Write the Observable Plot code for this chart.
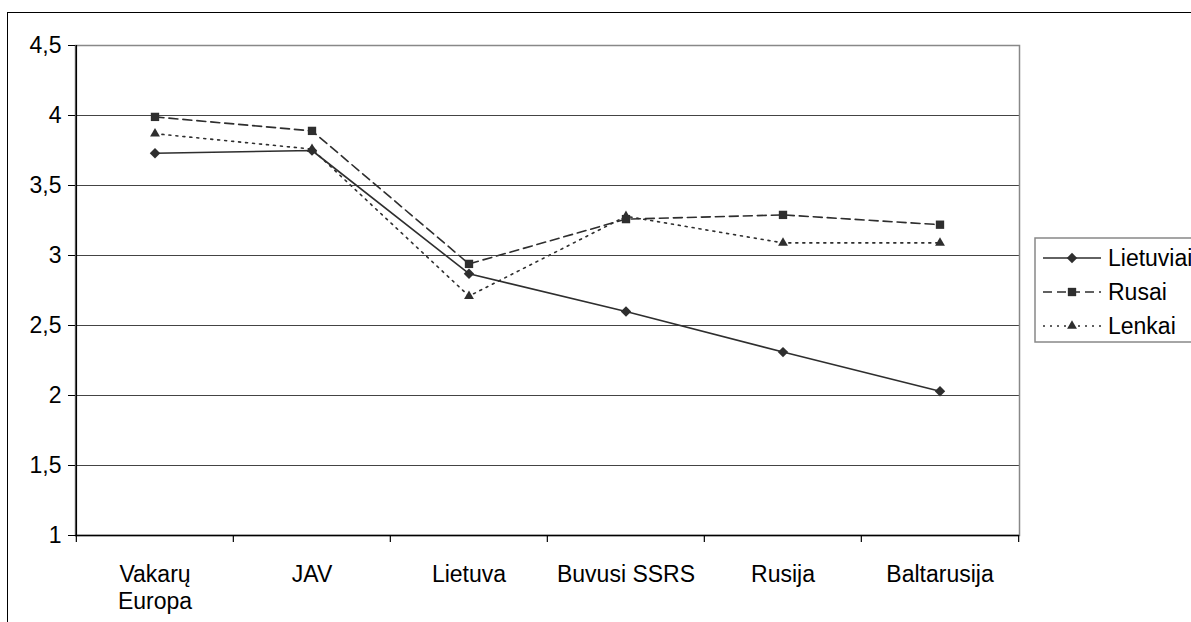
<!DOCTYPE html>
<html>
<head>
<meta charset="utf-8">
<script src="https://cdn.jsdelivr.net/npm/d3@7"></script>
<script src="https://cdn.jsdelivr.net/npm/@observablehq/plot@0.6"></script>
<style>
  html, body { margin: 0; padding: 0; background: #fff; }
  #wrap { position: relative; width: 1191px; height: 622px; overflow: hidden; }
  #border { position: absolute; left: 7px; top: 12px; width: 1400px; height: 800px;
            border-left: 1.5px solid #000; border-top: 1.5px solid #000; }
  #chart, #legend { position: absolute; left: 0; top: 0; }
</style>
</head>
<body>
<div id="wrap">
  <div id="border"></div>
  <div id="chart"></div>
  <div id="legend"></div>
</div>
<script>
const categories = ["Vakarų\nEuropa", "JAV", "Lietuva", "Buvusi SSRS", "Rusija", "Baltarusija"];
const seriesNames = ["Lietuviai", "Rusai", "Lenkai"];
const lietuviai = [3.73, 3.75, 2.87, 2.60, 2.31, 2.03];
const rusai     = [3.99, 3.89, 2.94, 3.26, 3.29, 3.22];
const lenkai    = [3.87, 3.76, 2.71, 3.28, 3.09, 3.09];
const yTicks = [1, 1.5, 2, 2.5, 3, 3.5, 4, 4.5];

const W = 1191, H = 622, mL = 75, mR = 172, mT = 45, mB = 87;
const bw = (W - mL - mR) / categories.length;
const ink = "#2e2e2e";
const font = "'Liberation Sans', Arial, sans-serif";
const fs = 23;

const styles = [
  {dash: null, symbol: "diamond2"},
  {dash: "9,5", symbol: "square"},
  {dash: "2,5", symbol: "triangle2"}
];
const values = [lietuviai, rusai, lenkai];
const tables = values.map((vals, s) => categories.map((c, i) => ({cat: c, value: vals[i], series: seriesNames[s]})));

const seriesMarks = tables.flatMap((t, s) => [
  Plot.line(t, {x: "cat", y: "value", stroke: ink, strokeWidth: 1.6, strokeDasharray: styles[s].dash}),
  Plot.dot(t, {x: "cat", y: "value", symbol: styles[s].symbol, r: 4.7, fill: ink, stroke: "none"})
]);

const plot = Plot.plot({
  width: W, height: H,
  marginLeft: mL, marginRight: mR, marginTop: mT, marginBottom: mB,
  style: {fontFamily: font, fontSize: fs + "px", color: "#000", background: "transparent", overflow: "visible"},
  x: {type: "band", domain: categories, padding: 0},
  y: {domain: [1, 4.5]},
  marks: [
    Plot.gridY(yTicks, {stroke: "#444", strokeOpacity: 1, strokeWidth: 1}),
    Plot.frame({stroke: "#888", strokeWidth: 1.5}),
    Plot.ruleY([1], {stroke: "#000", strokeWidth: 1.5}),
    Plot.ruleX([categories[0]], {dx: -bw / 2, stroke: "#000", strokeWidth: 1.5}),
    Plot.ruleX(categories, {dx: -bw / 2, insetTop: H - mT - mB, insetBottom: -7, stroke: "#000", strokeWidth: 1.2}),
    Plot.ruleX([categories[categories.length - 1]], {dx: bw / 2, insetTop: H - mT - mB, insetBottom: -7, stroke: "#000", strokeWidth: 1.2}),
    Plot.axisY({ticks: yTicks, tickSize: 7, tickPadding: 7, tickFormat: d => String(d).replace(".", ","), label: null, fontSize: fs, stroke: "#000"}),
    Plot.axisX({tickSize: 0, tickPadding: 27, label: null, fontSize: fs, lineHeight: 1.17}),
    ...seriesMarks
  ]
});
document.getElementById("chart").appendChild(plot);

// Legend
const lg = d3.select("#legend").append("svg").attr("width", W).attr("height", H)
  .style("font-family", font).style("font-size", fs + "px");
lg.append("rect").attr("x", 1035).attr("y", 238).attr("width", 300).attr("height", 104)
  .attr("fill", "#fff").attr("stroke", "#888").attr("stroke-width", 1.5);
const symMap = {diamond2: d3.symbolDiamond2, square: d3.symbolSquare, triangle2: d3.symbolTriangle2};
seriesNames.forEach((name, s) => {
  const y = 258 + s * 34;
  lg.append("line").attr("x1", 1043).attr("x2", 1101).attr("y1", y).attr("y2", y)
    .attr("stroke", ink).attr("stroke-width", 1.6).attr("stroke-dasharray", styles[s].dash);
  lg.append("path").attr("transform", `translate(1072,${y})`)
    .attr("d", d3.symbol(symMap[styles[s].symbol], Math.PI * 4.7 * 4.7)())
    .attr("fill", ink);
  lg.append("text").attr("x", 1108).attr("y", y).attr("dy", "0.35em").attr("fill", "#000").text(name);
});
</script>
</body>
</html>
